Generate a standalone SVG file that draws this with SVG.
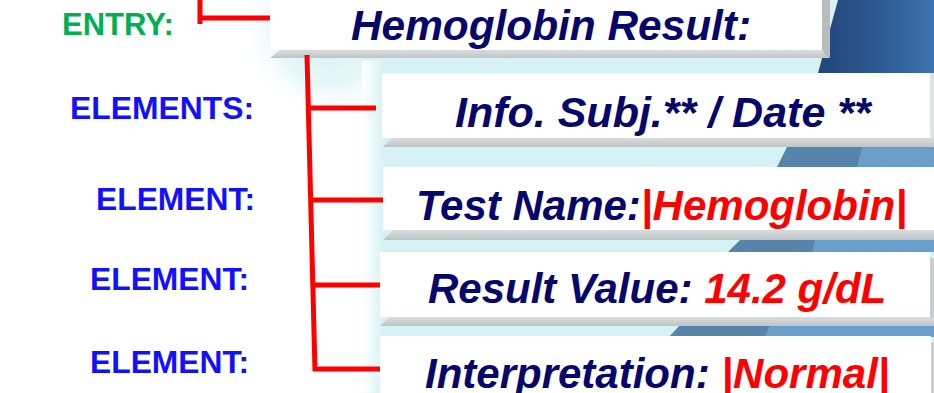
<svg xmlns="http://www.w3.org/2000/svg" width="934" height="393" viewBox="0 0 934 393">
<defs>
<linearGradient id="fadeL" x1="0" y1="0" x2="1" y2="0">
<stop offset="0" stop-color="#ffffff" stop-opacity="1"/>
<stop offset="1" stop-color="#ffffff" stop-opacity="0"/>
</linearGradient>
<radialGradient id="fadeTop" cx="330" cy="30" r="90" gradientUnits="userSpaceOnUse">
<stop offset="0" stop-color="#d6f1f4" stop-opacity="1"/>
<stop offset="0.6" stop-color="#d6f1f4" stop-opacity="0.6"/>
<stop offset="1" stop-color="#ffffff" stop-opacity="0"/>
</radialGradient>
<linearGradient id="bevel" x1="0" y1="0" x2="0" y2="1">
<stop offset="0" stop-color="#d9dcdc"/>
<stop offset="1" stop-color="#bfc5c6"/>
</linearGradient>
<linearGradient id="tr" x1="0" y1="0" x2="1" y2="0">
<stop offset="0" stop-color="#24467a"/>
<stop offset="0.55" stop-color="#2d5a93"/>
<stop offset="1" stop-color="#3f73b0"/>
</linearGradient>
</defs>
<style>
.lbl{font-family:"Liberation Sans",Arial,sans-serif;font-weight:bold;font-size:31px}
.ent{fill:#00b050}
.elm{fill:#1111ff}
.bx{font-family:"Liberation Sans",Arial,sans-serif;font-weight:bold;font-style:italic;font-size:42px;fill:#06066b}
.red{fill:#ff0000}
.wb{fill:#ffffff}
.bv{fill:url(#bevel)}
.bandD{fill:#5784ab}
.bandL{fill:#6a9fcb}
.cy{fill:#d6f2f4}
.con{stroke:#ff0000;stroke-width:5;fill:none}
</style>
<rect x="0" y="0" width="934" height="393" fill="#ffffff"/>
<g id="background">
<rect x="240" y="0" width="180" height="120" fill="url(#fadeTop)"/>
<rect x="362" y="0" width="572" height="393" class="cy"/>
<rect x="362" y="60" width="22" height="333" fill="url(#fadeL)"/>
<polygon points="838,0 934,0 934,73 818,73" fill="url(#tr)"/>
<polygon points="787,147 934,147 934,167 777,167" class="bandD"/>
<polygon points="862,147 934,147 934,167 857,167" class="bandL"/>
<polygon points="740,240 934,240 934,252 728,252" class="bandD"/>
<polygon points="815,240 934,240 934,252 812,252" class="bandL"/>
<polygon points="680,325 934,325 934,337 669,337" class="bandD"/>
<polygon points="770,325 934,325 934,337 765,337" class="bandL"/>
</g>
<g id="entry">
<polygon points="280,50 822,50 830,58 270,58" class="bv"/>
<polygon points="822,0 830,0 830,58 822,50" fill="#b8bcbd"/>
<rect x="270" y="0" width="552" height="50" class="wb"/>
<text x="351" y="40" class="bx" textLength="400" lengthAdjust="spacingAndGlyphs">Hemoglobin Result:</text>
</g>
<g id="info">
<polygon points="392,138 934,138 934,147 383,147" class="bv"/>
<rect x="382" y="73" width="548" height="65" class="wb"/>
<rect x="930" y="73" width="4" height="65" fill="#dfe3e4"/>
<text x="455" y="127" class="bx" style="font-size:43px">Info. Subj.** / Date **</text>
</g>
<g id="testname">
<polygon points="393,230 934,230 934,240 383,240" class="bv"/>
<rect x="383" y="167" width="551" height="63" class="wb"/>
<text x="416" y="220" class="bx">Test Name:<tspan class="red">|Hemoglobin|</tspan></text>
</g>
<g id="resultvalue">
<polygon points="390,317 934,317 934,326 380,326" class="bv"/>
<rect x="380" y="252" width="550" height="65" class="wb"/>
<rect x="930" y="258" width="4" height="60" fill="#c9cdce"/>
<text x="428" y="303" class="bx">Result Value: <tspan class="red">14.2 g/dL</tspan></text>
</g>
<g id="interpretation">
<rect x="380" y="336" width="551" height="57" class="wb"/>
<rect x="931" y="342" width="3" height="51" fill="#c9cdce"/>
<text x="425" y="388" class="bx">Interpretation: <tspan class="red">|Normal|</tspan></text>
</g>
<g id="labels">
<text x="62" y="35" class="lbl ent">ENTRY:</text>
<text x="70" y="119" class="lbl elm" textLength="184" lengthAdjust="spacingAndGlyphs">ELEMENTS:</text>
<text x="96" y="210" class="lbl elm" textLength="159" lengthAdjust="spacingAndGlyphs">ELEMENT:</text>
<text x="90" y="290" class="lbl elm" textLength="159" lengthAdjust="spacingAndGlyphs">ELEMENT:</text>
<text x="90" y="373" class="lbl elm" textLength="159" lengthAdjust="spacingAndGlyphs">ELEMENT:</text>
</g>
<g id="connectors">
<polyline class="con" points="200,0 200,24"/>
<line class="con" x1="198" y1="18" x2="270" y2="18"/>
<line class="con" x1="307" y1="55" x2="315" y2="371"/>
<line class="con" x1="309" y1="108" x2="376" y2="108"/>
<line class="con" x1="312" y1="200" x2="383" y2="200"/>
<line class="con" x1="314" y1="285" x2="380" y2="285"/>
<line class="con" x1="313" y1="369" x2="380" y2="369"/>
</g>
</svg>
